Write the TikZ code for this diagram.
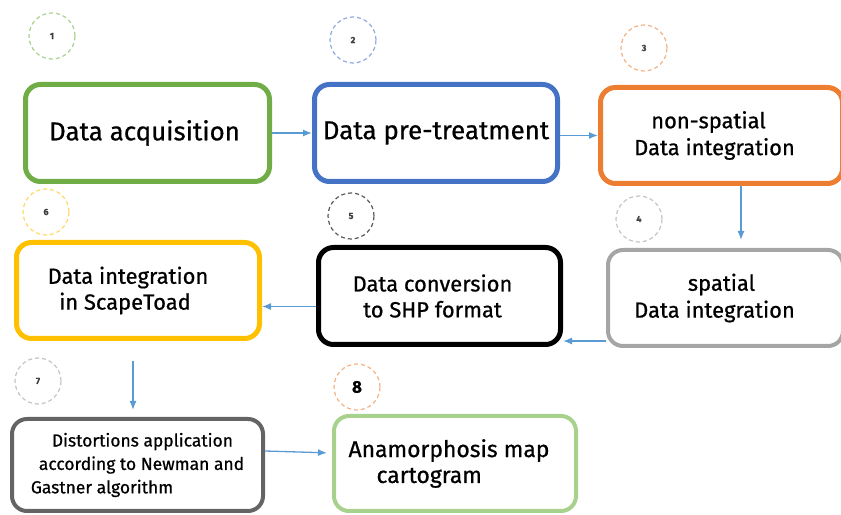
\documentclass[tikz,border=0pt]{standalone}
\usepackage{fontspec}
\setmainfont{Fira Sans}[FakeBold=0.7]
\usetikzlibrary{arrows.meta}
\definecolor{boxgreen}{HTML}{70AD47}
\definecolor{boxblue}{HTML}{4472C4}
\definecolor{boxorange}{HTML}{ED7D31}
\definecolor{boxgray}{HTML}{A5A5A5}
\definecolor{boxgold}{HTML}{FFC000}
\definecolor{boxdark}{HTML}{646464}
\definecolor{boxlime}{HTML}{A9D18E}
\definecolor{ringgreen}{HTML}{A9D18E}
\definecolor{ringblue}{HTML}{8FAADC}
\definecolor{ringorange}{HTML}{F4B183}
\definecolor{ringgray}{HTML}{C4C4C4}
\definecolor{ringdark}{HTML}{595959}
\definecolor{ringgold}{HTML}{FFD966}
\definecolor{flowblue}{HTML}{5B9BD5}
\begin{document}
\begin{tikzpicture}[>={Latex[length=9bp,width=7bp]},line join=round,
  stepbox/.style={draw,rounded corners=15bp,line width=5bp,align=center,inner sep=0pt},
  numring/.style={draw,circle,line width=1.2bp,dash pattern=on 4bp off 3bp,minimum size=46bp,inner sep=0pt,
    text=black!75,font=\fontsize{9}{10}\selectfont\bfseries},
  flow/.style={->,draw=flowblue,line width=1.3bp}]
\useasboundingbox (0bp,0bp) rectangle (841bp,515bp);
%%
\node (node_1) at (147.5bp,382bp) [stepbox,draw=boxgreen,minimum width=244bp,minimum height=97bp,font=\fontsize{26}{31}\selectfont] {Data acquisition\hspace*{6bp}};
  \node (node_2) at (436bp,382bp) [stepbox,draw=boxblue,minimum width=243bp,minimum height=97bp,font=\fontsize{26}{31}\selectfont] {Data pre-treatment};
  \node (node_3) at (721.5bp,379.5bp) [stepbox,draw=boxorange,minimum width=242bp,minimum height=96bp,font=\fontsize{22}{27}\selectfont] {non-spatial\hspace*{26bp}\\Data integration\hspace*{14bp}};
  \node (node_4) at (725.5bp,217bp) [stepbox,draw=boxgray,line width=4bp,minimum width=235bp,minimum height=96bp,font=\fontsize{22}{27}\selectfont] {spatial\hspace*{8bp}\\Data integration\hspace*{22bp}};
  \node (node_5) at (439.5bp,219bp) [stepbox,draw=black,minimum width=242bp,minimum height=97bp,font=\fontsize{22}{26}\selectfont] {Data conversion\hspace*{14bp}\\to SHP format\hspace*{14bp}};
  \node (node_6) at (138bp,224.5bp) [stepbox,draw=boxgold,minimum width=243bp,minimum height=96bp,font=\fontsize{22}{26}\selectfont] {Data integration\hspace*{20bp}\\in ScapeToad\hspace*{26bp}};
  \node (node_7) at (137.5bp,50bp) [stepbox,draw=boxdark,line width=4bp,minimum width=251bp,minimum height=92bp,align=left,font=\fontsize{17.5}{23.5}\selectfont] {\hspace*{21bp}Distortions application\\\hspace*{8bp}according to Newman and\\Gastner algorithm};
  \node (node_8) at (455bp,51.5bp) [stepbox,draw=boxlime,line width=4bp,minimum width=242bp,minimum height=95bp,align=left,font=\fontsize{23}{26}\selectfont] {Anamorphosis map\hspace*{12bp}\\\hspace*{28bp}cartogram};
%
\node (ring_1) at (52bp,479bp) [numring,draw=ringgreen] {1};
  \node (ring_2) at (353bp,475bp) [numring,draw=ringblue] {2};
  \node (ring_3) at (644bp,467bp) [numring,draw=ringorange] {3};
  \node (ring_4) at (639bp,296bp) [numring,draw=ringgray] {4};
  \node (ring_5) at (351bp,299bp) [numring,draw=ringdark] {5};
  \node (ring_6) at (46bp,303bp) [numring,draw=ringgold] {6};
  \node (ring_7) at (38bp,134bp) [numring,draw=ringgray] {7};
  \node (ring_8) at (357bp,128bp) [numring,draw=ringorange,text=black,font=\fontsize{17}{18}\selectfont\bfseries] {8};
%
\draw [flow] (node_1) -- (node_2);
  \draw [flow] (node_2.east |- node_3.west) -- (node_3.west);
  \draw [flow,shorten >=8bp] ([xshift=19.5bp]node_3.south) -- ([xshift=19.5bp]node_3.south |- node_4.north);
  \draw [flow] ([yshift=-43bp]node_4.west) -- ([yshift=-43bp]node_4.west -| node_5.east);
  \draw [flow] ([yshift=-10.5bp]node_5.west) -- ([yshift=-10.5bp]node_5.west -| node_6.east);
  \draw [flow,shorten <=20bp,shorten >=7bp] ([xshift=-5bp]node_6.south) -- ([xshift=-5bp]node_6.south |- node_7.north);
  \draw [flow,shorten >=5bp] ([yshift=14bp]node_7.east) -- ([yshift=10.5bp]node_8.west);
%
\end{tikzpicture}
\end{document}
